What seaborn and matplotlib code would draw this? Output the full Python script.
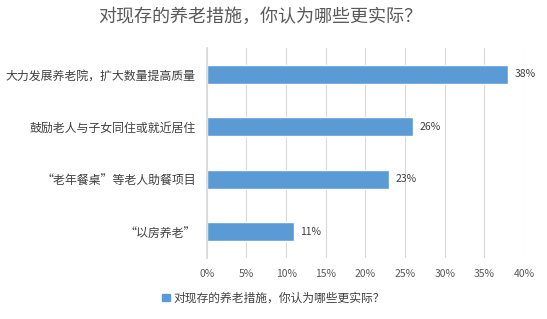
import matplotlib
matplotlib.use("Agg")
import matplotlib.pyplot as plt
import seaborn as sns
import pandas as pd
from matplotlib.ticker import FuncFormatter, MultipleLocator
from matplotlib.patches import Patch

categories = ["大力发展养老院，扩大数量提高质量", "鼓励老人与子女同住或就近居住", "“老年餐桌”等老人助餐项目", "“以房养老”"]
values = [38, 26, 23, 11]
title = "对现存的养老措施，你认为哪些更实际？"

sns.set_theme(style="white")
plt.rcParams['font.family'] = ['Noto Sans CJK SC', 'DejaVu Sans']

df = pd.DataFrame({"cat": categories, "val": values})
fig = plt.figure(figsize=(5.47, 3.19), dpi=100)
ax = fig.add_axes([0.378, 0.191, 0.58, 0.659])
sns.barplot(data=df, y="cat", x="val", color="#5B9BD5", width=0.36, ax=ax, saturation=1)
ax.set_xlim(0, 40)
ax.xaxis.set_major_locator(MultipleLocator(5))
ax.xaxis.set_major_formatter(FuncFormatter(lambda v, p: f"{int(v)}%"))
ax.grid(axis="x", color="#d9d9d9", linewidth=0.8)
ax.set_axisbelow(True)
for s in ["top", "right", "bottom"]:
    ax.spines[s].set_visible(False)
ax.spines["left"].set_color("#d9d9d9")
ax.set_xlabel("")
ax.set_ylabel("")
ax.tick_params(axis="x", labelsize=7.5, colors="#595959", length=0, pad=8)
ax.tick_params(axis="y", labelsize=8.6, colors="#404040", length=0, pad=8)
for i, v in enumerate(values):
    ax.text(v + 0.8, i, f"{v}%", va="center", ha="left", fontsize=7.5, color="#404040")
fig.suptitle(title, x=0.475, y=0.975, fontsize=13, color="#595959")
handle = Patch(color="#5B9BD5")
fig.legend([handle], [title], loc="center", bbox_to_anchor=(0.5, 0.065), frameon=False,
           fontsize=8.5, handlelength=0.6, handleheight=0.6, handletextpad=0.3, labelcolor="#404040")
fig.savefig("out.png", dpi=100)
